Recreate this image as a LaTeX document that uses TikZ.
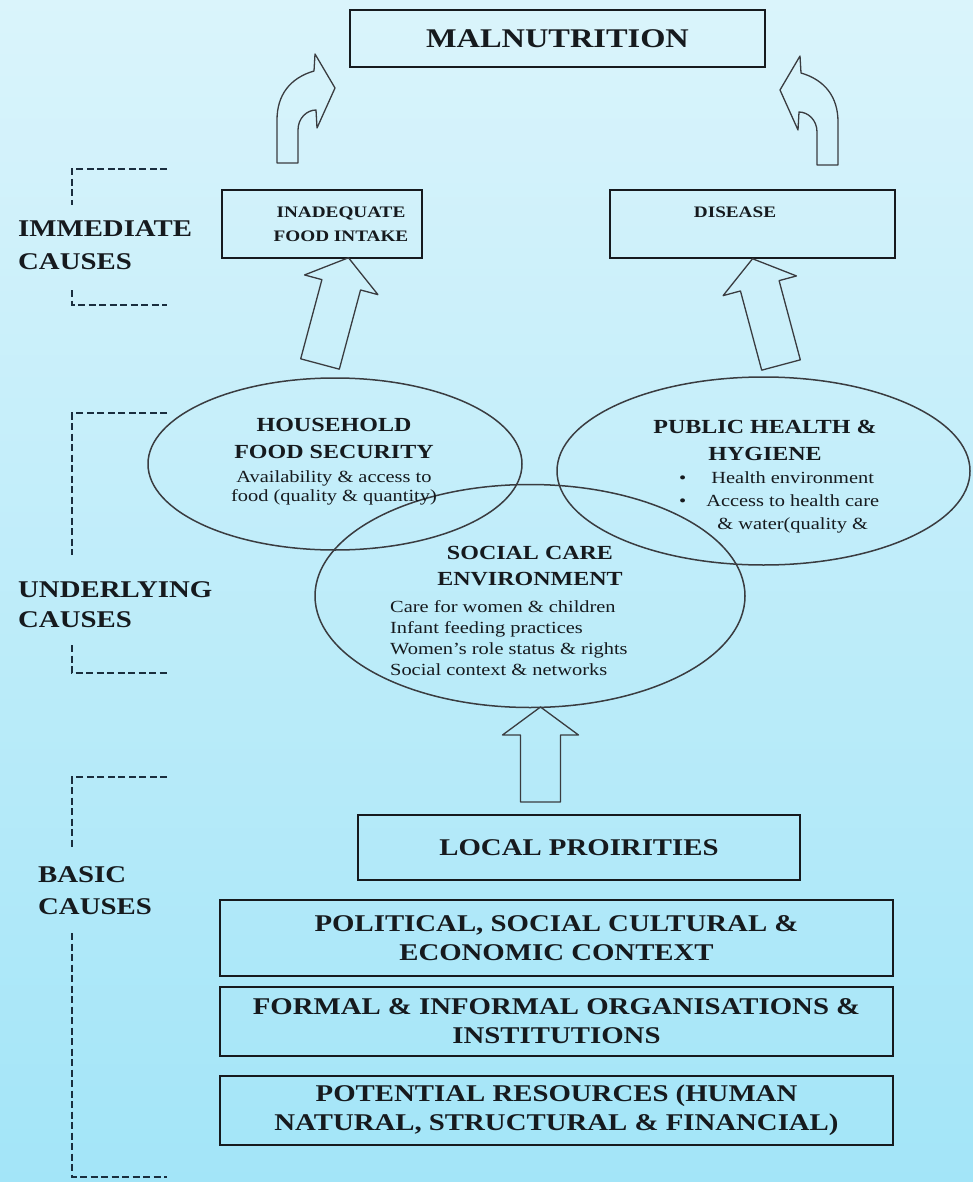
\documentclass[tikz,border=0pt]{standalone}
\usepackage{fontspec}
\setmainfont{Liberation Serif}[FakeStretch=1.2]
\usetikzlibrary{shapes.geometric,calc}

\definecolor{bgtop}{RGB}{218,244,251}
\definecolor{bgbot}{RGB}{163,229,248}
\definecolor{ink}{RGB}{22,26,30}
\definecolor{dashink}{RGB}{26,46,62}
\definecolor{ellink}{RGB}{58,60,64}

\tikzset{
  arrowline/.style={draw=ellink,line width=1.3pt,line join=round},
  pics/blockarrow/.style={code={
    \draw[arrowline] (-20,0) -- (-20,{-#1+28}) -- (-38,{-#1+28}) -- (0,-#1)
      -- (38,{-#1+28}) -- (20,{-#1+28}) -- (20,0) -- cycle;}},
  pics/bentarrow/.style={code={
    \draw[arrowline] (0,0) -- (0,-43) .. controls (0,-68) and (13,-85) .. (37,-92)
      -- (38,-109) -- (58,-75) -- (40,-35) -- (39,-53)
      .. controls (30,-53) and (21,-45) .. (21,-33) -- (21,0) -- cycle;}},
}

\begin{document}
\begin{tikzpicture}[x=1pt,y=-1pt,
    box/.style={draw=ink,line width=1.8pt,inner sep=0pt,text=ink,align=center,
      font=\bfseries\fontsize{24}{29}\selectfont},
    boxtext/.style={inner sep=0pt,text=ink,align=center,font=\bfseries\fontsize{16}{24}\selectfont},
    ell/.style={ellipse,draw=ellink,line width=1.5pt,inner sep=0pt},
    ellhead/.style={inner sep=0pt,text=ink,align=center,font=\bfseries\fontsize{20}{27}\selectfont},
    ellbody/.style={inner sep=0pt,text=ink,font=\fontsize{17}{21}\selectfont},
    sidelabel/.style={inner sep=0pt,text=ink,align=left,anchor=west,
      font=\bfseries\fontsize{24}{32}\selectfont},
    bracket/.style={draw=dashink,line width=2.4pt,dash pattern=on 7pt off 3.5pt},
  ]
  \shade[top color=bgtop,bottom color=bgbot] (0,0) rectangle (973,1182);
  \useasboundingbox (0,0) rectangle (973,1182);

  % outcome and immediate causes
  \node[box,minimum width=415,minimum height=57,font=\bfseries\fontsize{27}{30}\selectfont]
    (mal) at (557.5,38.5) {MALNUTRITION};
  \node[box,minimum width=200,minimum height=68] (food) at (322,224) {};
  \node[boxtext] (food-t) at (341,224) {INADEQUATE\\FOOD INTAKE};
  \node[box,minimum width=285,minimum height=68] (dis) at (752.5,224) {};
  \node[boxtext] (dis-t) at (735,212) {DISEASE};

  % underlying causes
  \node[ell,minimum width=374,minimum height=172] (hfs) at (335,464) {};
  \node[ell,minimum width=413,minimum height=188] (phh) at (763.5,471) {};
  \node[ell,minimum width=430,minimum height=223] (sce) at (530,596) {};
  \node[ellhead] (hfs-t) at (334,438.5) {HOUSEHOLD\\FOOD SECURITY};
  \node[ellbody,align=center,font=\fontsize{17}{19}\selectfont] (hfs-b) at (334,488)
    {Availability \& access to\\food (quality \& quantity)};
  \node[ellhead] (phh-t) at (765,440.5) {PUBLIC HEALTH \&\\HYGIENE};
  \node[ellbody,anchor=west,font=\fontsize{17}{23}\selectfont] (phh-b) at (679,502)
    {\begin{tabular}{@{}l@{\hspace{20pt}}c@{}}
      \textbullet & Health environment\\
      \textbullet & Access to health care\\
                  & \& water(quality \&
    \end{tabular}};
  \node[ellhead,font=\bfseries\fontsize{20}{26}\selectfont] (sce-t) at (530,566)
    {SOCIAL CARE\\ENVIRONMENT};
  \node[ellbody,anchor=west,align=left] (sce-b) at (390,638)
    {Care for women \& children\\Infant feeding practices\\
     Women's role status \& rights\\Social context \& networks};

  % basic causes
  \node[box,minimum width=442,minimum height=65] (loc) at (579,847.5) {LOCAL PROIRITIES};
  \node[box,minimum width=673,minimum height=76] (pol) at (556.5,938)
    {POLITICAL, SOCIAL CULTURAL \&\\ECONOMIC CONTEXT};
  \node[box,minimum width=673,minimum height=69] (org) at (556.5,1021.5)
    {FORMAL \& INFORMAL ORGANISATIONS \&\\INSTITUTIONS};
  \node[box,minimum width=673,minimum height=69] (res) at (556.5,1110.5)
    {POTENTIAL RESOURCES (HUMAN\\NATURAL, STRUCTURAL \& FINANCIAL)};

  % side labels
  \node[sidelabel,font=\bfseries\fontsize{24}{33}\selectfont] (imm) at (18,245.5) {IMMEDIATE\\CAUSES};
  \node[sidelabel,font=\bfseries\fontsize{24}{30}\selectfont] (und) at (18,605) {UNDERLYING\\CAUSES};
  \node[sidelabel] (bas) at (38,891) {BASIC\\CAUSES};
  \foreach \ya/\yb/\yc/\yd in {169/205/290/305, 413/555/645/673, 777/848/933/1177}
    \draw[bracket] (167,\ya) -- (72,\ya) -- (72,\yb) (72,\yc) -- (72,\yd) -- (167,\yd);

  % arrows
  \coordinate (a-food) at (320,364);
  \coordinate (a-dis) at (781,365);
  \coordinate (a-sce) at (540.5,802);
  \pic[rotate=-15] at (a-food) {blockarrow=110};
  \pic[rotate=15] at (a-dis) {blockarrow=110};
  \pic at (a-sce) {blockarrow=95};
  \pic at (277,163) {bentarrow};
  \pic[xscale=-1] at (838,165) {bentarrow};
\end{tikzpicture}
\end{document}
